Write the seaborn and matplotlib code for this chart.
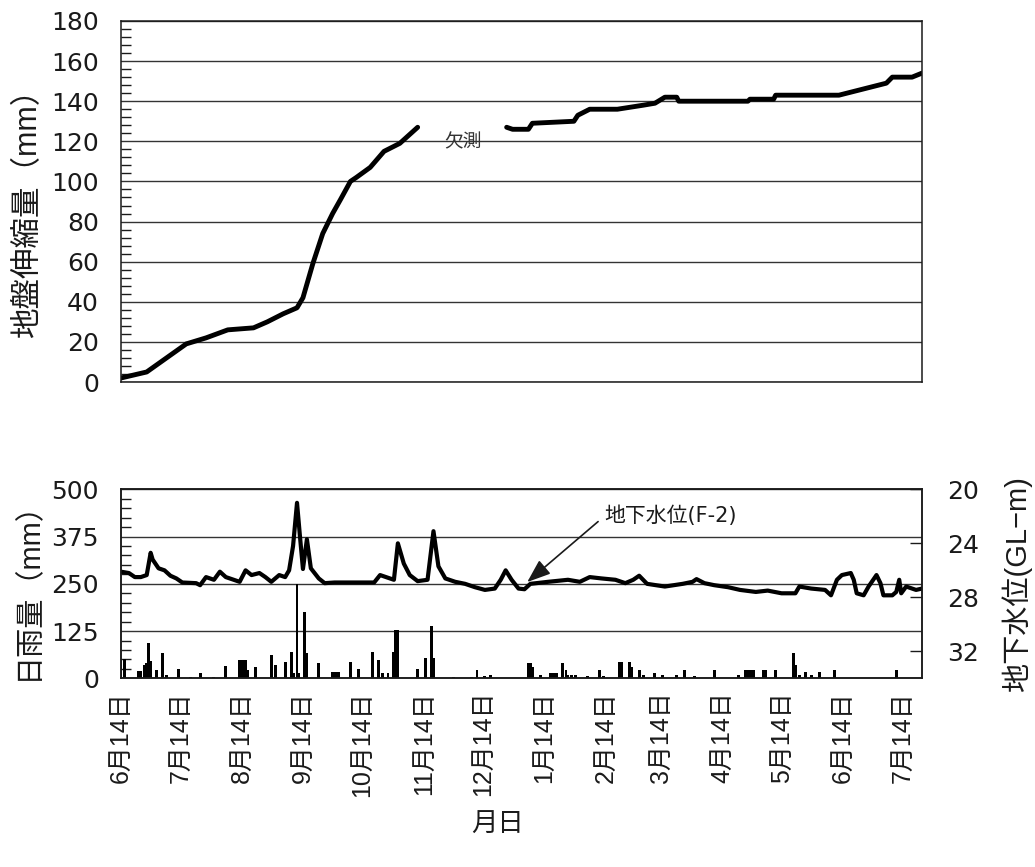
import matplotlib
matplotlib.use("Agg")
import matplotlib.pyplot as plt
from matplotlib.ticker import MultipleLocator
import seaborn as sns

sns.set_style("white")
plt.rcParams['font.family'] = ['DejaVu Sans', 'Noto Sans CJK JP']
plt.rcParams['axes.unicode_minus'] = False
arial_jp = ['Liberation Sans', 'Noto Sans CJK JP']

# 地盤伸縮量 (mm) - 6月14日からの経過日数
disp_days_1 = [0, 13, 23, 33, 43, 54, 67, 74, 82, 89, 92, 97, 102, 107, 111, 116, 119, 126, 133, 141, 150]
disp_mm_1 = [2, 5, 12, 19, 22, 26, 27, 30, 34, 37, 42, 59, 74, 84, 91, 100, 102, 107, 115, 119, 127]
disp_days_2 = [195, 198, 206, 208, 229, 231, 237, 251, 264, 270, 275, 281, 282, 317, 318, 330, 331,
               363, 371, 379, 387, 390, 400, 405]
disp_mm_2 = [127, 126, 126, 129, 130, 133, 136, 136, 138, 139, 142, 142, 140, 140, 141, 141, 143,
             143, 145, 147, 149, 152, 152, 154]

# 地下水位 (GL-m)
wl_days = [0, 4, 7, 10, 13, 15, 16, 19, 22, 25, 28, 31, 38, 40, 43, 47, 50, 53, 57, 60,
           63, 66, 70, 73, 76, 80, 83, 85, 87, 89, 90.5, 92, 94, 96, 100, 103, 108, 128, 131, 134,
           138, 140, 143, 146, 150, 155, 158, 160.5, 164, 169, 174, 179, 184, 189, 192, 194.5, 197.5, 201, 204, 207,
           216, 226, 232, 237, 243, 250, 255, 259, 262, 266, 275, 284, 289, 291, 295, 300, 307, 313, 321, 327,
           334, 341, 343, 349, 356, 359, 362, 364.5, 369, 370.5, 372, 375.5, 378, 382, 384, 385.5, 390, 392,
           393.5, 394.5, 397, 402, 405]
wl_m = [26.1, 26.2, 26.5, 26.5, 26.35, 24.7, 25.2, 25.85, 26.0, 26.4, 26.6, 26.9, 26.95, 27.1, 26.5,
        26.7, 26.1, 26.5, 26.7, 26.85, 26.0, 26.35, 26.2, 26.5, 26.85, 26.35, 26.5, 26.0, 24.2, 21.0,
        23.5, 25.9, 23.7, 25.85, 26.6, 26.95, 26.9, 26.9, 26.35, 26.5, 26.7, 24.0, 25.5, 26.35, 26.8,
        26.7, 23.1, 25.7, 26.6, 26.85, 27.0, 27.25, 27.45, 27.35, 26.7, 26.0, 26.7, 27.35, 27.4, 27.0,
        26.85, 26.7, 26.85, 26.5, 26.6, 26.7, 26.95, 26.7, 26.4, 27.0, 27.2, 27.0, 26.85, 26.65, 26.95,
        27.1, 27.25, 27.45, 27.6, 27.5, 27.7, 27.7, 27.2, 27.35, 27.45, 27.85, 26.7, 26.35, 26.2, 26.7,
        27.7, 27.85, 27.2, 26.35, 26.95, 27.85, 27.85, 27.6, 26.7, 27.7, 27.2, 27.45, 27.35]

# 日雨量 (mm)
rain_days = [0, 2, 9, 10, 12, 13, 14, 15, 18, 21, 23, 29, 35, 40, 47, 53, 60, 61, 62, 63,
             64, 68, 76, 78, 83, 86, 87, 89, 90, 93, 94, 100, 107, 108, 109, 110, 116, 120, 127, 130,
             132, 135, 138, 139, 140, 150, 154, 157, 158, 168, 177, 180, 184, 187, 206, 207, 208, 212, 217, 218,
             219, 220, 223, 225, 226, 228, 230, 236, 242, 244, 252, 253, 257, 258, 262, 264, 270, 274, 281, 285,
             290, 300, 312, 316, 317, 318, 319, 320, 325, 326, 331, 340, 341, 343, 346, 349, 353, 361, 392]
rain_mm = [50, 50, 20, 20, 35, 40, 93, 45, 22, 66, 8, 24, 4, 15, 4, 33, 48, 48, 48, 48,
           22, 31, 62, 35, 44, 71, 13, 250, 13, 176, 66, 40, 18, 18, 18, 18, 44, 24, 71, 48,
           15, 15, 71, 128, 128, 24, 53, 139, 53, 4, 4, 22, 6, 8, 40, 40, 31, 8, 13, 13,
           13, 13, 40, 22, 8, 8, 8, 6, 22, 6, 44, 44, 44, 31, 22, 8, 13, 8, 8, 22,
           6, 22, 8, 22, 22, 22, 22, 22, 22, 22, 22, 66, 35, 8, 17, 8, 17, 22, 22]

month_days = [0, 30, 61, 92, 122, 153, 183, 214, 245, 273, 304, 334, 365, 395]
month_labels = ['6月14日', '7月14日', '8月14日', '9月14日', '10月14日', '11月14日', '12月14日',
                '1月14日', '2月14日', '3月14日', '4月14日', '5月14日', '6月14日', '7月14日']

ink = '#1a1a1a'
fig = plt.figure(figsize=(10.35, 8.67), dpi=100)
ax_t = fig.add_axes([0.1169, 0.5594, 0.7739, 0.4164])
ax_b = fig.add_axes([0.1169, 0.2176, 0.7739, 0.218])

# --- 上段: 地盤伸縮量
sns.lineplot(x=disp_days_1, y=disp_mm_1, color='black', lw=3.5, ax=ax_t)
sns.lineplot(x=disp_days_2, y=disp_mm_2, color='black', lw=3.5, ax=ax_t)
ax_t.set_xlim(0, 405)
ax_t.set_ylim(0, 180)
ax_t.set_yticks(range(0, 181, 20))
ax_t.yaxis.set_minor_locator(MultipleLocator(4))
ax_t.set_xticks([0, 100, 200, 300, 400])
ax_t.tick_params(axis='x', direction='in', length=10, width=1, color=ink, labelbottom=False)
ax_t.tick_params(axis='y', which='major', length=0, pad=16, labelsize=18, labelcolor=ink)
ax_t.tick_params(axis='y', which='minor', direction='in', length=7, width=1, color=ink, left=True)
ax_t.grid(axis='y', color='#333333', lw=1.0)
ax_t.text(173, 119.6, '欠測', fontsize=13.5, color='#333333', ha='center', va='center')

# --- 下段: 日雨量 + 地下水位
ax_b.bar(rain_days, rain_mm, width=1.5, color='black', linewidth=0)
ax_b.set_xlim(0, 405)
ax_b.set_ylim(0, 500)
ax_b.set_yticks([0, 125, 250, 375, 500])
ax_b.yaxis.set_minor_locator(MultipleLocator(25))
ax_b.set_xticks(month_days)
ax_b.set_xticklabels(month_labels, rotation=90, family=arial_jp)
ax_b.tick_params(axis='x', length=0, pad=9, labelsize=18, labelcolor=ink)
ax_b.tick_params(axis='y', which='major', length=0, pad=16, labelsize=18, labelcolor=ink)
ax_b.tick_params(axis='y', which='minor', direction='in', length=7, width=1, color=ink, left=True)
ax_b.grid(axis='y', color='#333333', lw=1.0)

ax_w = ax_b.twinx()
sns.lineplot(x=wl_days, y=wl_m, color='black', lw=3.0, ax=ax_w)
ax_w.set_xlim(0, 405)
ax_w.set_ylim(34, 20)
ax_w.set_yticks([20, 24, 28, 32])
ax_w.tick_params(axis='y', direction='in', length=9, width=1, color=ink, pad=18,
                 labelsize=18, labelcolor=ink)
ax_w.annotate('地下水位(F-2)', xy=(205.4, 26.87), xytext=(244.5, 21.98),
              fontsize=15, color=ink, ha='left', va='center',
              arrowprops=dict(arrowstyle='-|>,head_length=0.8,head_width=0.3', color=ink,
                              lw=1.2, mutation_scale=18, relpos=(0, 0.5), shrinkA=3, shrinkB=0))

for a in (ax_t, ax_b, ax_w):
    a.set_xlabel('')
    a.set_ylabel('')
    for s in a.spines.values():
        s.set_color(ink)
        s.set_linewidth(1.1)

fig.text(0.0271, 0.7636, '地盤伸縮量（mm）', rotation=90, fontsize=22, color=ink,
         ha='center', va='center', family=arial_jp)
fig.text(0.0271, 0.3276, '日雨量（mm）', rotation=90, fontsize=21, color=ink,
         ha='center', va='center', family=arial_jp)
fig.text(0.9826, 0.3264, '地下水位(GL−m)', rotation=90, fontsize=21, color=ink,
         ha='center', va='center', family=arial_jp)
fig.text(0.4812, 0.0484, '月日', fontsize=19, color=ink, ha='center', va='center')

fig.savefig('out.png', dpi=100)
